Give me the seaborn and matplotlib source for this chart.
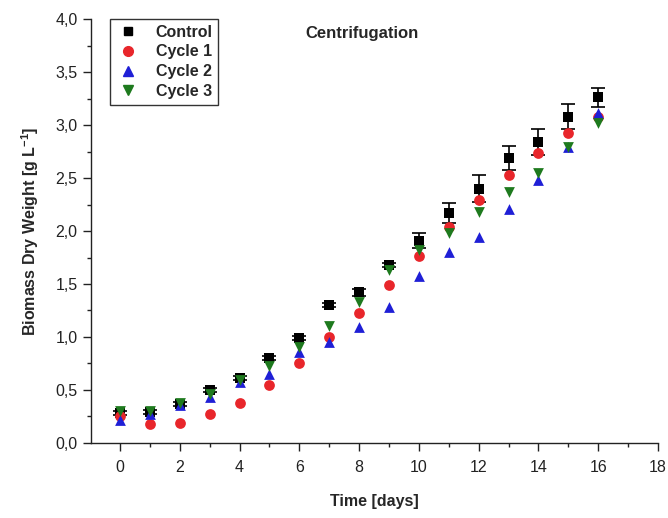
import numpy as np
import pandas as pd
import matplotlib
matplotlib.use("Agg")
import matplotlib.pyplot as plt
from matplotlib.lines import Line2D
from matplotlib.ticker import MultipleLocator, FuncFormatter
import seaborn as sns

days = list(range(0, 17))
control = [0.28, 0.29, 0.37, 0.50, 0.61, 0.80, 0.99, 1.30, 1.42, 1.68, 1.91, 2.17, 2.40, 2.69, 2.84, 3.08, 3.26]
control_err = [0.02, 0.02, 0.02, 0.02, 0.02, 0.02, 0.02, 0.02, 0.03, 0.02, 0.07, 0.09, 0.13, 0.11, 0.12, 0.12, 0.09]
cycle1 = [0.25, 0.18, 0.19, 0.27, 0.38, 0.55, 0.75, 1.00, 1.23, 1.49, 1.76, 2.04, 2.29, 2.53, 2.74, 2.92, 3.08]
cycle2 = [0.22, 0.27, 0.36, 0.43, 0.58, 0.65, 0.86, 0.95, 1.09, 1.28, 1.58, 1.80, 1.94, 2.21, 2.48, 2.79, 3.11]
cycle3 = [0.30, 0.30, 0.38, 0.46, 0.59, 0.73, 0.91, 1.10, 1.33, 1.63, 1.82, 1.98, 2.18, 2.37, 2.55, 2.79, 3.02]
series_names = ["Control", "Cycle 1", "Cycle 2", "Cycle 3"]
x_ticks = [0, 2, 4, 6, 8, 10, 12, 14, 16, 18]
y_ticks = [0.0, 0.5, 1.0, 1.5, 2.0, 2.5, 3.0, 3.5, 4.0]

sns.set_theme(style="ticks")
plt.rcParams["font.family"] = ["Liberation Sans", "DejaVu Sans"]
plt.rcParams["mathtext.fontset"] = "custom"
plt.rcParams["mathtext.rm"] = "Liberation Sans"
plt.rcParams["mathtext.bf"] = "Liberation Sans:bold"

df = pd.DataFrame({
    "Time": days * 4,
    "Biomass": control + cycle1 + cycle2 + cycle3,
    "Series": sum([[n] * len(days) for n in series_names], []),
})

palette = {"Control": "#000000", "Cycle 1": "#e8262b", "Cycle 2": "#1f1fd6", "Cycle 3": "#1e7a1e"}
markers = {"Control": "s", "Cycle 1": "o", "Cycle 2": "^", "Cycle 3": "v"}
sizes = {"Control": 42, "Cycle 1": 60, "Cycle 2": 60, "Cycle 3": 60}

fig = plt.figure(figsize=(6.68, 5.18), dpi=100)
ax = fig.add_axes([0.1358, 0.1448, 0.985 - 0.1358, 0.9633 - 0.1448])

ax.errorbar(days, control, yerr=control_err, fmt="none", ecolor="black",
            elinewidth=1.2, capsize=5, capthick=1.2, zorder=2)

for name in series_names:
    sub = df[df["Series"] == name]
    sns.scatterplot(data=sub, x="Time", y="Biomass", color=palette[name],
                    marker=markers[name], s=sizes[name], linewidth=0,
                    ax=ax, legend=False, zorder=3)

ax.set_xlim(-0.98, 18)
ax.set_ylim(0, 4.0)
ax.set_xticks(x_ticks)
ax.set_yticks(y_ticks)
ax.xaxis.set_minor_locator(MultipleLocator(1))
ax.yaxis.set_minor_locator(MultipleLocator(0.25))
ax.yaxis.set_major_formatter(FuncFormatter(lambda v, p: f"{v:.1f}".replace(".", ",")))
ax.tick_params(axis="both", which="major", direction="out", length=6, width=1,
               labelsize=11.5, colors="#222222", labelcolor="#222222")
ax.tick_params(axis="x", which="major", pad=6)
ax.tick_params(axis="both", which="minor", direction="out", length=3, width=1, colors="#222222")
for s in ["top", "right"]:
    ax.spines[s].set_visible(False)
for s in ["left", "bottom"]:
    ax.spines[s].set_color("#222222")
    ax.spines[s].set_linewidth(1)

ax.set_xlabel("Time [days]", fontsize=11.5, fontweight="bold", labelpad=14)
ax.set_ylabel("Biomass Dry Weight [g L$^{\\mathbf{-1}}$]", fontsize=11.5, fontweight="bold", labelpad=10)

ax.text(0.378, 0.965, "Centrifugation", transform=ax.transAxes, fontsize=12,
        fontweight="bold", ha="left", va="center")

handles = [Line2D([0], [0], marker=markers[n], color="none", markerfacecolor=palette[n],
                  markeredgecolor=palette[n], markersize=7 if n != "Control" else 6,
                  linestyle="none") for n in series_names]
leg = ax.legend(handles, series_names, loc="upper left", bbox_to_anchor=(0.034, 1.0),
                borderaxespad=0, frameon=True, fancybox=False, edgecolor="black",
                borderpad=0.35, labelspacing=0.3, handletextpad=0.9, handlelength=1.6,
                prop={"weight": "bold", "size": 11.5})
leg.get_frame().set_linewidth(1)

fig.savefig("out.png", dpi=100)
